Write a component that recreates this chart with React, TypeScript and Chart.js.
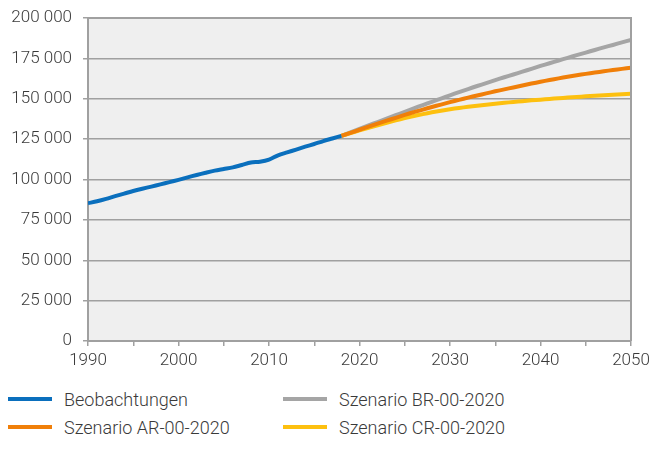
import React, { useEffect, useRef } from "react";
import { Chart, registerables } from "chart.js";

Chart.register(...registerables);

const obsYears = [1990, 1991, 1992, 1993, 1994, 1995, 1996, 1997, 1998, 1999, 2000, 2001, 2002, 2003, 2004, 2005, 2006, 2007, 2008, 2009, 2010, 2011, 2012, 2013, 2014, 2015, 2016, 2017, 2018];
const obsValues = [85300, 86500, 88000, 89700, 91300, 92900, 94300, 95600, 97000, 98400, 99800, 101300, 102800, 104200, 105500, 106500, 107500, 109000, 110500, 111000, 112300, 115000, 116800, 118500, 120300, 122000, 123800, 125400, 127000];

const projYears = [2018, 2019, 2020, 2021, 2022, 2023, 2024, 2025, 2026, 2027, 2028, 2029, 2030, 2031, 2032, 2033, 2034, 2035, 2036, 2037, 2038, 2039, 2040, 2041, 2042, 2043, 2044, 2045, 2046, 2047, 2048, 2049, 2050];
const brValues = [127000, 129200, 131400, 133500, 135600, 137700, 139800, 141900, 144000, 146100, 148100, 150100, 152100, 154100, 156000, 157900, 159700, 161500, 163300, 165000, 166800, 168500, 170300, 172000, 173700, 175300, 177000, 178600, 180200, 181800, 183300, 184900, 186400];
const arValues = [127000, 128900, 130800, 132700, 134600, 136400, 138200, 140000, 141700, 143300, 144900, 146400, 147900, 149300, 150700, 152000, 153300, 154600, 155800, 157000, 158200, 159400, 160500, 161600, 162600, 163600, 164500, 165400, 166200, 167000, 167800, 168500, 169200];
const crValues = [127000, 128700, 130400, 132000, 133600, 135100, 136600, 138000, 139300, 140500, 141600, 142600, 143500, 144300, 145000, 145700, 146300, 146900, 147500, 148000, 148500, 149000, 149400, 149900, 150300, 150700, 151100, 151500, 151900, 152200, 152500, 152800, 153100];

const seriesNames = ["Beobachtungen", "Szenario AR-00-2020", "Szenario BR-00-2020", "Szenario CR-00-2020"];
const seriesColors = ["#0a6fbd", "#f07f09", "#a5a5a5", "#fdc00f"];

const yMin = 0;
const yMax = 200000;
const yStep = 25000;
const xMin = 1990;
const xMax = 2050;
const xStep = 5;
const xLabelEvery = 10;

const FONT = "Roboto";
const TEXT = "#3a3a3a";
const AXIS = "#a0a0a0";

function toPoints(xs: number[], ys: number[]) {
  return xs.map((x, i) => ({ x, y: ys[i] }));
}

function fmt(v: number) {
  return String(Math.round(v)).replace(/\B(?=(\d{3})+(?!\d))/g, " ");
}

function zeroPad(s: any) {
  s.paddingLeft = 0;
  s.paddingRight = 0;
  s.paddingTop = 0;
  s.paddingBottom = 0;
}

const plotBg = {
  id: "plotBg",
  beforeDraw(chart: any) {
    const { ctx, chartArea: a } = chart;
    ctx.save();
    ctx.fillStyle = "#efefef";
    ctx.fillRect(a.left, a.top, a.right - a.left, a.bottom - a.top);
    ctx.restore();
  },
  afterDraw(chart: any) {
    const { ctx, chartArea: a } = chart;
    ctx.save();
    ctx.strokeStyle = AXIS;
    ctx.lineWidth = 2;
    ctx.beginPath();
    ctx.moveTo(a.left, a.top);
    ctx.lineTo(a.right, a.top);
    ctx.lineTo(a.right, a.bottom);
    ctx.stroke();
    ctx.restore();
  },
};

export default function App() {
  const ref = useRef<HTMLCanvasElement>(null);
  useEffect(() => {
    if (!ref.current) return;
    const mk = (i: number, xs: number[], ys: number[], order: number) => ({
      label: seriesNames[i],
      data: toPoints(xs, ys),
      borderColor: seriesColors[i],
      backgroundColor: seriesColors[i],
      borderWidth: 4,
      pointRadius: 0,
      tension: 0.3,
      fill: false,
      order,
    });
    const chart = new Chart(ref.current, {
      type: "line",
      data: {
        datasets: [
          mk(0, obsYears, obsValues, 0),
          mk(1, projYears, arValues, 1),
          mk(3, projYears, crValues, 2),
          mk(2, projYears, brValues, 3),
        ],
      },
      options: {
        animation: false,
        responsive: false,
        maintainAspectRatio: false,
        layout: { padding: { left: 0, right: 19, top: 18, bottom: 0 } },
        plugins: { legend: { display: false }, tooltip: { enabled: false } },
        scales: {
          x: {
            type: "linear",
            min: xMin,
            max: xMax,
            afterFit: (s: any) => {
              s.height = 34;
              zeroPad(s);
            },
            ticks: {
              stepSize: xStep,
              autoSkip: false,
              maxRotation: 0,
              padding: 5,
              color: TEXT,
              font: { family: FONT, size: 17, weight: "300" },
              callback: (v: any) => (Number(v) % xLabelEvery === 0 ? String(v) : ""),
            },
            grid: { drawOnChartArea: false, drawTicks: true, tickLength: 5, color: AXIS, lineWidth: 1.5 },
            border: { display: true, color: AXIS, width: 2 },
          },
          y: {
            min: yMin,
            max: yMax,
            afterFit: (s: any) => {
              s.width = 88;
              zeroPad(s);
            },
            ticks: {
              stepSize: yStep,
              padding: 11,
              color: TEXT,
              font: { family: FONT, size: 17, weight: "300" },
              callback: (v: any) => fmt(Number(v)),
            },
            grid: { color: AXIS, lineWidth: 1.5, drawTicks: true, tickLength: 5 },
            border: { display: true, color: AXIS, width: 2 },
          },
        },
      } as any,
      plugins: [plotBg],
    });
    return () => chart.destroy();
  }, []);

  const legendRows = [
    [0, 2],
    [1, 3],
  ];

  return (
    <div style={{ position: "absolute", left: 0, top: 0, width: 650, height: 455, background: "#fff" }}>
      <canvas ref={ref} width={650} height={375} style={{ display: "block", width: 650, height: 375 }} />
      {legendRows.map((row, r) =>
        row.map((si, c) => (
          <div
            key={`${r}-${c}`}
            style={{
              position: "absolute",
              left: c === 0 ? 8 : 283,
              top: 399 + r * 28 - 12,
              height: 24,
              display: "flex",
              alignItems: "center",
              fontFamily: FONT,
              fontWeight: 300,
              fontSize: 18,
              color: TEXT,
              whiteSpace: "nowrap",
            }}
          >
            <span style={{ display: "inline-block", width: 44, height: 4, background: seriesColors[si], marginRight: 12 }} />
            <span>{seriesNames[si]}</span>
          </div>
        ))
      )}
    </div>
  );
}
